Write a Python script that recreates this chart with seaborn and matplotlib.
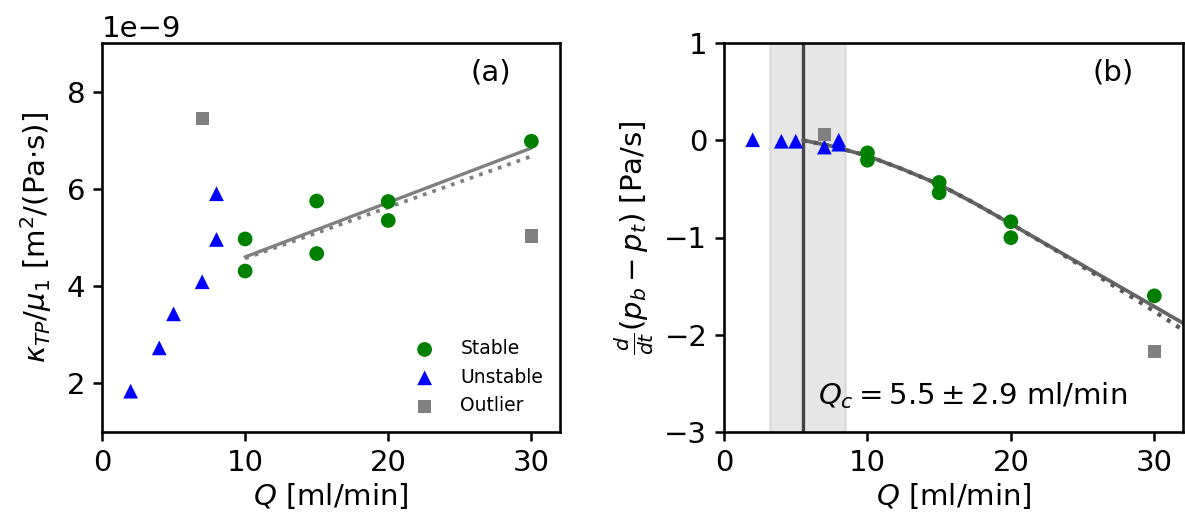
import numpy as np
import pandas as pd
import matplotlib
matplotlib.use("Agg")
import matplotlib.pyplot as plt
import seaborn as sns

# === Panel (a) data: permeability / viscosity vs flow rate ===
stable_Q = [10, 10, 15, 15, 20, 20, 30]
stable_k = [4.97e-9, 4.31e-9, 5.75e-9, 4.67e-9, 5.74e-9, 5.35e-9, 6.98e-9]
unstable_Q = [2, 4, 5, 7, 8, 8]
unstable_k = [1.84e-9, 2.73e-9, 3.43e-9, 4.09e-9, 4.96e-9, 5.90e-9]
outlier_Q = [7, 30]
outlier_k = [7.45e-9, 5.03e-9]

fit_a_Q = [10, 30]
fit_a_solid = [4.60e-9, 6.84e-9]
fit_a_dotted = [4.57e-9, 6.67e-9]

# === Panel (b) data: pressure difference rate vs flow rate ===
stable_dp = [-0.13, -0.205, -0.434, -0.54, -0.838, -1.002, -1.60]
unstable_dp = [0.005, -0.01, -0.01, -0.07, 0.0, -0.04]
outlier_dp = [0.06, -2.17]

fit_b_Q = [5.5, 7.5, 10, 12.5, 15, 17.5, 20, 23, 26, 29, 32]
fit_b_solid = [0.0, -0.06, -0.16, -0.30, -0.455, -0.65, -0.86, -1.115, -1.37, -1.625, -1.88]
fit_b_dotted = [0.0, -0.06, -0.16, -0.30, -0.455, -0.65, -0.86, -1.12, -1.39, -1.665, -1.95]

Qc = 5.5
Qc_band = [3.2, 8.45]

# === Style ===
sns.set_style("ticks")
plt.rcParams.update({
    "font.family": ["DejaVu Sans"],
    "font.size": 14,
    "axes.labelsize": 14,
    "xtick.labelsize": 14,
    "ytick.labelsize": 14,
    "axes.linewidth": 1.25,
    "xtick.major.size": 4.5,
    "ytick.major.size": 4.5,
    "xtick.major.width": 1.2,
    "ytick.major.width": 1.2,
    "axes.edgecolor": "black",
    "axes.labelcolor": "black",
    "text.color": "black",
    "xtick.color": "black",
    "ytick.color": "black",
})

fig = plt.figure(figsize=(1185 / 150, 529 / 150), dpi=150)
ax_a = fig.add_axes([102 / 1185, 1 - 432 / 529, 458 / 1185, 389 / 529])
ax_b = fig.add_axes([724 / 1185, 1 - 432 / 529, 459 / 1185, 389 / 529])

msize = 50

# === Panel (a) ===
sns.lineplot(x=fit_a_Q, y=fit_a_solid, ax=ax_a, color="gray", lw=1.6, zorder=2)
sns.lineplot(x=fit_a_Q, y=fit_a_dotted, ax=ax_a, color="gray", lw=1.8, ls=":", zorder=2)
sns.scatterplot(x=stable_Q, y=stable_k, ax=ax_a, color="green", marker="o",
                s=msize, edgecolor="none", label="Stable", zorder=3)
sns.scatterplot(x=unstable_Q, y=unstable_k, ax=ax_a, color="blue", marker="^",
                s=msize, edgecolor="none", label="Unstable", zorder=3)
sns.scatterplot(x=outlier_Q, y=outlier_k, ax=ax_a, color="gray", marker="s",
                s=msize * 0.8, edgecolor="none", label="Outlier", zorder=3)

ax_a.set_xlim(0, 32)
ax_a.set_ylim(1e-9, 9e-9)
ax_a.set_xticks([0, 10, 20, 30])
ax_a.set_yticks([2e-9, 4e-9, 6e-9, 8e-9])
ax_a.set_xlabel(r"$Q$ [ml/min]", labelpad=2)
ax_a.set_ylabel(r"$\kappa_{TP}/\mu_1$ [m$^2$/(Pa$\cdot$s)]", labelpad=6)
ax_a.text(0.85, 0.925, "(a)", transform=ax_a.transAxes, ha="center", va="center", fontsize=14)
leg = ax_a.legend(loc="lower right", frameon=False, fontsize=9, scatterpoints=1,
                  handletextpad=0.9, borderaxespad=0.5)

# === Panel (b) ===
ax_b.axvspan(Qc_band[0], Qc_band[1], facecolor="0.9", edgecolor="0.86", lw=1.2, zorder=0)
ax_b.axvline(Qc, color="0.27", lw=1.6, zorder=1)
sns.lineplot(x=fit_b_Q, y=fit_b_solid, ax=ax_b, color="0.4", lw=1.8, zorder=2)
sns.lineplot(x=fit_b_Q, y=fit_b_dotted, ax=ax_b, color="0.35", lw=2.0, ls=":", zorder=2)
sns.scatterplot(x=stable_Q, y=stable_dp, ax=ax_b, color="green", marker="o",
                s=msize, edgecolor="none", zorder=3)
sns.scatterplot(x=unstable_Q, y=unstable_dp, ax=ax_b, color="blue", marker="^",
                s=msize, edgecolor="none", zorder=3)
sns.scatterplot(x=outlier_Q, y=outlier_dp, ax=ax_b, color="gray", marker="s",
                s=msize * 0.8, edgecolor="none", zorder=3)

ax_b.set_xlim(0, 32)
ax_b.set_ylim(-3, 1)
ax_b.set_xticks([0, 10, 20, 30])
ax_b.set_yticks([-3, -2, -1, 0, 1])
ax_b.set_xlabel(r"$Q$ [ml/min]", labelpad=2)
ax_b.set_ylabel(r"$\frac{d}{dt}(p_b - p_t)$ [Pa/s]", labelpad=4)
ax_b.text(0.847, 0.925, "(b)", transform=ax_b.transAxes, ha="center", va="center", fontsize=14)
ax_b.text(0.205, 0.093, r"$Q_c = 5.5 \pm 2.9$ ml/min", transform=ax_b.transAxes,
          ha="left", va="center", fontsize=14)

fig.savefig("out.png", dpi=150)
